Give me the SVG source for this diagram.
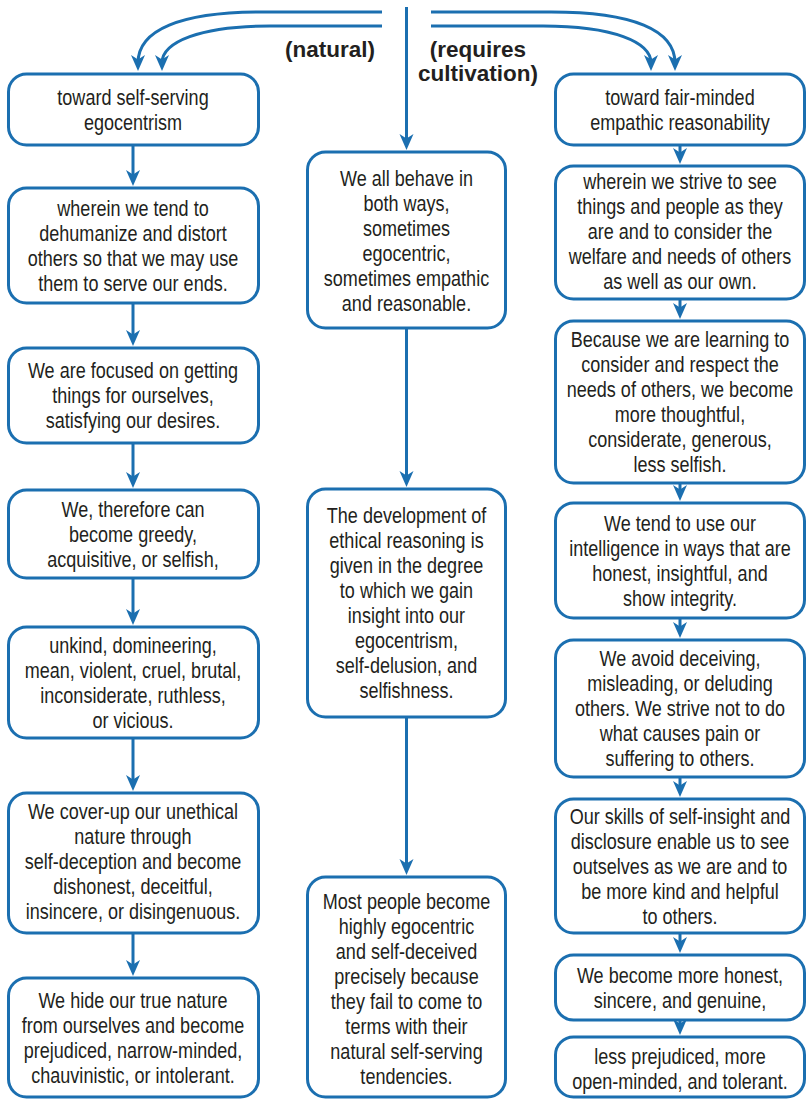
<svg xmlns="http://www.w3.org/2000/svg" width="807" height="1101" viewBox="0 0 807 1101">
<style>
.box{fill:#fff;stroke:#1b6fb0;stroke-width:3}
.t{font-family:"Liberation Sans",Arial,sans-serif;font-size:22px;fill:#231f20;text-anchor:middle}
.lbl{font-family:"Liberation Sans",Arial,sans-serif;font-size:22.5px;font-weight:bold;fill:#231f20;text-anchor:middle}
.c{fill:none;stroke:#1b6fb0;stroke-width:3;marker-end:url(#ah)}
</style>
<defs>
<marker id="ah" markerUnits="userSpaceOnUse" markerWidth="17" markerHeight="15" refX="8" refY="7" orient="auto" viewBox="0 0 17 14">
<path d="M16,7 L0,0 L4.5,7 L0,14 Z" fill="#1b6fb0"/>
</marker>
</defs>
<rect width="807" height="1101" fill="#fff"/>
<g id="connectors">
<path class="c" d="M382,12 L262,12 C180,12 138,30 138,63"/>
<path class="c" d="M382,26 L270,26 C200,26 162,42 162,63"/>
<path class="c" d="M431,12 L551,12 C633,12 675,30 675,63"/>
<path class="c" d="M431,26 L543,26 C613,26 651,42 651,63"/>
<path class="c" d="M406.5,7 L406.5,142"/>
<path class="c" d="M406.5,328 L406.5,479"/>
<path class="c" d="M406.5,717 L406.5,867"/>
<path class="c" d="M133,145 L133,178"/>
<path class="c" d="M133,303 L133,338"/>
<path class="c" d="M133,443 L133,480"/>
<path class="c" d="M133,578 L133,617"/>
<path class="c" d="M133,738 L133,783"/>
<path class="c" d="M133,933 L133,968"/>
<path class="c" d="M680,145 L680,156"/>
<path class="c" d="M680,299 L680,311"/>
<path class="c" d="M680,483 L680,493"/>
<path class="c" d="M680,618 L680,630"/>
<path class="c" d="M680,777 L680,789"/>
<path class="c" d="M680,933 L680,945"/>
<path class="c" d="M680,1020 L680,1027"/>
</g>
<g id="labels">
<text class="lbl" x="330" y="57">(natural)</text>
<text class="lbl" x="478" y="57">(requires</text>
<text class="lbl" x="478" y="81">cultivation)</text>
</g>
<g id="L1"><rect class="box" x="8.5" y="74" width="250" height="71" rx="18"/>
<g transform="matrix(0.82 0 0 1 23.94 0)"><text class="t" x="133" y="105">toward self-serving</text><text class="t" x="133" y="130">egocentrism</text></g></g>
<g id="L2"><rect class="box" x="8.5" y="188" width="250" height="115" rx="18"/>
<g transform="matrix(0.82 0 0 1 23.94 0)"><text class="t" x="133" y="216">wherein we tend to</text><text class="t" x="133" y="241">dehumanize and distort</text><text class="t" x="133" y="266">others so that we may use</text><text class="t" x="133" y="291">them to serve our ends.</text></g></g>
<g id="L3"><rect class="box" x="8.5" y="348" width="250" height="95" rx="18"/>
<g transform="matrix(0.82 0 0 1 23.94 0)"><text class="t" x="133" y="378.5">We are focused on getting</text><text class="t" x="133" y="403.5">things for ourselves,</text><text class="t" x="133" y="428.5">satisfying our desires.</text></g></g>
<g id="L4"><rect class="box" x="8.5" y="490" width="250" height="88" rx="18"/>
<g transform="matrix(0.82 0 0 1 23.94 0)"><text class="t" x="133" y="517">We, therefore can</text><text class="t" x="133" y="542">become greedy,</text><text class="t" x="133" y="567">acquisitive, or selfish,</text></g></g>
<g id="L5"><rect class="box" x="8.5" y="627" width="250" height="111" rx="18"/>
<g transform="matrix(0.82 0 0 1 23.94 0)"><text class="t" x="133" y="653">unkind, domineering,</text><text class="t" x="133" y="678">mean, violent, cruel, brutal,</text><text class="t" x="133" y="703">inconsiderate, ruthless,</text><text class="t" x="133" y="728">or vicious.</text></g></g>
<g id="L6"><rect class="box" x="8.5" y="793" width="250" height="140" rx="18"/>
<g transform="matrix(0.82 0 0 1 23.94 0)"><text class="t" x="133" y="819">We cover-up our unethical</text><text class="t" x="133" y="844">nature through</text><text class="t" x="133" y="869">self-deception and become</text><text class="t" x="133" y="894">dishonest, deceitful,</text><text class="t" x="133" y="919">insincere, or disingenuous.</text></g></g>
<g id="L7"><rect class="box" x="8.5" y="978" width="250" height="119" rx="18"/>
<g transform="matrix(0.82 0 0 1 23.94 0)"><text class="t" x="133" y="1008">We hide our true nature</text><text class="t" x="133" y="1033">from ourselves and become</text><text class="t" x="133" y="1058">prejudiced, narrow-minded,</text><text class="t" x="133" y="1083">chauvinistic, or intolerant.</text></g></g>
<g id="C1"><rect class="box" x="307.5" y="152" width="198" height="176" rx="18"/>
<g transform="matrix(0.82 0 0 1 73.17 0)"><text class="t" x="406.5" y="186">We all behave in</text><text class="t" x="406.5" y="211">both ways,</text><text class="t" x="406.5" y="236">sometimes</text><text class="t" x="406.5" y="261">egocentric,</text><text class="t" x="406.5" y="286">sometimes empathic</text><text class="t" x="406.5" y="311">and reasonable.</text></g></g>
<g id="C2"><rect class="box" x="307.5" y="489" width="198" height="228" rx="18"/>
<g transform="matrix(0.82 0 0 1 73.17 0)"><text class="t" x="406.5" y="523">The development of</text><text class="t" x="406.5" y="548">ethical reasoning is</text><text class="t" x="406.5" y="573">given in the degree</text><text class="t" x="406.5" y="598">to which we gain</text><text class="t" x="406.5" y="623">insight into our</text><text class="t" x="406.5" y="648">egocentrism,</text><text class="t" x="406.5" y="673">self-delusion, and</text><text class="t" x="406.5" y="698">selfishness.</text></g></g>
<g id="C3"><rect class="box" x="307.5" y="877" width="198" height="220" rx="18"/>
<g transform="matrix(0.82 0 0 1 73.17 0)"><text class="t" x="406.5" y="909">Most people become</text><text class="t" x="406.5" y="934">highly egocentric</text><text class="t" x="406.5" y="959">and self-deceived</text><text class="t" x="406.5" y="984">precisely because</text><text class="t" x="406.5" y="1009">they fail to come to</text><text class="t" x="406.5" y="1034">terms with their</text><text class="t" x="406.5" y="1059">natural self-serving</text><text class="t" x="406.5" y="1084">tendencies.</text></g></g>
<g id="R1"><rect class="box" x="555.5" y="74" width="249" height="71" rx="18"/>
<g transform="matrix(0.82 0 0 1 122.4 0)"><text class="t" x="680" y="105">toward fair-minded</text><text class="t" x="680" y="130">empathic reasonability</text></g></g>
<g id="R2"><rect class="box" x="555.5" y="166" width="249" height="133" rx="18"/>
<g transform="matrix(0.82 0 0 1 122.4 0)"><text class="t" x="680" y="189">wherein we strive to see</text><text class="t" x="680" y="214">things and people as they</text><text class="t" x="680" y="239">are and to consider the</text><text class="t" x="680" y="264">welfare and needs of others</text><text class="t" x="680" y="289">as well as our own.</text></g></g>
<g id="R3"><rect class="box" x="555.5" y="321" width="249" height="162" rx="18"/>
<g transform="matrix(0.82 0 0 1 122.4 0)"><text class="t" x="680" y="347.5">Because we are learning to</text><text class="t" x="680" y="372.5">consider and respect the</text><text class="t" x="680" y="397.5">needs of others, we become</text><text class="t" x="680" y="422.5">more thoughtful,</text><text class="t" x="680" y="447.5">considerate, generous,</text><text class="t" x="680" y="472.5">less selfish.</text></g></g>
<g id="R4"><rect class="box" x="555.5" y="503" width="249" height="115" rx="18"/>
<g transform="matrix(0.82 0 0 1 122.4 0)"><text class="t" x="680" y="531">We tend to use our</text><text class="t" x="680" y="556">intelligence in ways that are</text><text class="t" x="680" y="581">honest, insightful, and</text><text class="t" x="680" y="606">show integrity.</text></g></g>
<g id="R5"><rect class="box" x="555.5" y="640" width="249" height="137" rx="18"/>
<g transform="matrix(0.82 0 0 1 122.4 0)"><text class="t" x="680" y="666.5">We avoid deceiving,</text><text class="t" x="680" y="691.5">misleading, or deluding</text><text class="t" x="680" y="716.5">others. We strive not to do</text><text class="t" x="680" y="741.5">what causes pain or</text><text class="t" x="680" y="766.5">suffering to others.</text></g></g>
<g id="R6"><rect class="box" x="555.5" y="799" width="249" height="134" rx="18"/>
<g transform="matrix(0.82 0 0 1 122.4 0)"><text class="t" x="680" y="824">Our skills of self-insight and</text><text class="t" x="680" y="849">disclosure enable us to see</text><text class="t" x="680" y="874">outselves as we are and to</text><text class="t" x="680" y="899">be more kind and helpful</text><text class="t" x="680" y="924">to others.</text></g></g>
<g id="R7"><rect class="box" x="555.5" y="955" width="249" height="65" rx="18"/>
<g transform="matrix(0.82 0 0 1 122.4 0)"><text class="t" x="680" y="983">We become more honest,</text><text class="t" x="680" y="1008">sincere, and genuine,</text></g></g>
<g id="R8"><rect class="box" x="555.5" y="1037" width="249" height="60" rx="18"/>
<g transform="matrix(0.82 0 0 1 122.4 0)"><text class="t" x="680" y="1064">less prejudiced, more</text><text class="t" x="680" y="1089">open-minded, and tolerant.</text></g></g>
</svg>
